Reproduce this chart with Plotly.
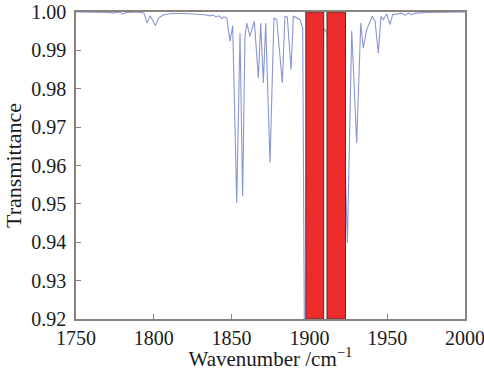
import plotly.graph_objects as go

# Spectrum data
wavenumber = [1750, 1760, 1770, 1772, 1773.6, 1775.5, 1778, 1780, 1782.5, 1790, 1793.7,
              1795.6, 1797.6, 1801.0, 1803.1, 1805.9, 1811.1, 1820, 1829.7, 1832.9, 1836.1,
              1838, 1840, 1841.9, 1843.8, 1845.1, 1846.9, 1849.0, 1850.7, 1853.3, 1855.4,
              1857.1, 1858.6, 1859.7, 1861.8, 1864.6, 1867.2, 1868.7, 1870.4, 1871.9, 1874.7,
              1877.2, 1879.0, 1882.6, 1884.3, 1885.8, 1888.2, 1889.7, 1894.0, 1895.7, 1897.0,
              1900, 1904, 1907, 1909.0, 1911.5, 1914, 1918, 1922.0, 1924.4, 1927.2, 1930.4,
              1933.0, 1934.6, 1936.8, 1940.4, 1942.2, 1944.3, 1946.0, 1947.5, 1949.7, 1951.8,
              1953.5, 1956.1, 1959.3, 1961.4, 1963.6, 1965.7, 1967.9, 1975, 1990, 2000]
transmittance = [1.0, 1.0, 1.0, 0.9999, 0.9997, 0.9999, 1.0, 0.9995, 0.9999, 1.0, 0.9997,
                 0.9971, 0.9990, 0.9965, 0.9984, 0.9992, 0.9996, 0.9996, 0.9994, 0.9993, 0.9990,
                 0.9992, 0.9987, 0.9990, 0.9983, 0.9988, 0.9984, 0.9924, 0.9964, 0.9502, 0.9945,
                 0.9520, 0.9937, 0.9971, 0.9937, 0.9976, 0.9828, 0.9971, 0.9815, 0.9971, 0.9607,
                 0.9984, 0.9980, 0.9815, 0.9989, 0.9987, 0.9850, 0.9989, 0.9980, 0.9958, 0.900,
                 0.890, 0.900, 0.930, 0.9958, 0.9945, 0.900, 0.910, 0.975, 0.9398, 0.9951, 0.9659,
                 0.9971, 0.9906, 0.9954, 0.9989, 0.9976, 0.9893, 0.9989, 0.9980, 0.9995, 0.9967,
                 0.9993, 0.9995, 0.9997, 0.9991, 0.9997, 0.9993, 0.9997, 0.9999, 1.0, 1.0]

# Highlighted bands
band_starts = [1897.7, 1911.3]
band_ends = [1909.2, 1923.2]

x_ticks = [1750, 1800, 1850, 1900, 1950, 2000]
y_ticks = [0.92, 0.93, 0.94, 0.95, 0.96, 0.97, 0.98, 0.99, 1.00]

fig = go.Figure()
fig.add_trace(go.Scatter(x=wavenumber, y=transmittance, mode="lines",
                         line=dict(color="#8a96d4", width=1.1), showlegend=False,
                         cliponaxis=True))

for x0, x1 in zip(band_starts, band_ends):
    fig.add_shape(type="rect", xref="x", yref="y", x0=x0, x1=x1, y0=0.92, y1=1.00,
                  fillcolor="#ee2c2c", line=dict(color="#3a3a3a", width=1), layer="above")

frame = "#8a827e"
fig.update_layout(
    width=484, height=371,
    margin=dict(l=76, r=19, t=12, b=52, autoexpand=False),
    paper_bgcolor="white", plot_bgcolor="white",
    font=dict(family="Liberation Serif", size=20, color="#1a1a1a"),
    xaxis=dict(range=[1750, 2000], tickvals=x_ticks, ticktext=[str(v) for v in x_ticks],
               showgrid=False, zeroline=False, showline=True, mirror=True, automargin=False,
               linecolor=frame, linewidth=1.5, ticks="inside", ticklen=5, tickcolor=frame,
               tickfont=dict(size=20), ticklabelstandoff=0, ticklabeloverflow="allow",
               title=dict(text="Wavenumber /cm<sup>−1</sup>", font=dict(size=21), standoff=0)),
    yaxis=dict(range=[0.92, 1.00], tickvals=y_ticks, ticktext=[f"{v:.2f}" for v in y_ticks],
               showgrid=False, zeroline=False, showline=True, mirror=True, automargin=False,
               linecolor=frame, linewidth=1.5, ticks="inside", ticklen=5, tickcolor=frame,
               tickfont=dict(size=20), ticklabelstandoff=4, ticklabeloverflow="allow",
               title=dict(text="Transmittance", font=dict(size=22), standoff=4)),
)

fig.write_html("out.html", config={"displayModeBar": False},
               post_script="document.body.style.margin='0';")
